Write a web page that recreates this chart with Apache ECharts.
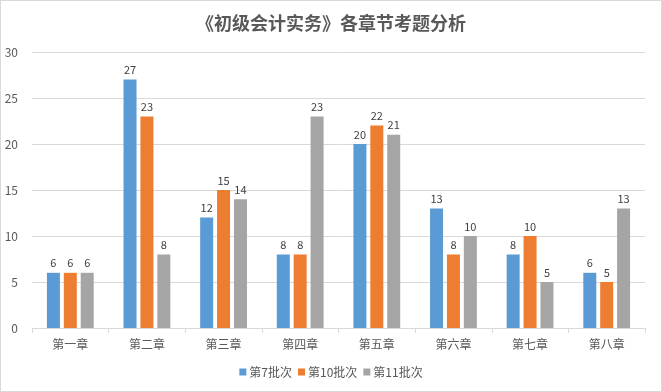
<!DOCTYPE html>
<html><head><meta charset="utf-8">
<script src="https://cdn.jsdelivr.net/npm/echarts@6/dist/echarts.min.js"></script>
<style>html,body{margin:0;padding:0;background:#fff}#c{width:662px;height:392px;box-sizing:border-box;border:1px solid #d9d9d9}</style>
</head><body><div id="c"></div>
<script>
const categories = ['第一章','第二章','第三章','第四章','第五章','第六章','第七章','第八章'];
const batch7 = [6,27,12,8,20,13,8,6];
const batch10 = [6,23,15,8,22,8,10,5];
const batch11 = [6,8,14,23,21,10,5,13];
const seriesNames = ['第7批次','第10批次','第11批次'];
const colors = ['#5B9BD5','#ED7D31','#A5A5A5'];
const chart = echarts.init(document.getElementById('c'));
const font = "'Microsoft YaHei','Noto Sans CJK SC',sans-serif";
const mk = (name, data, color) => ({
  name, type:'bar', data, barWidth:13, barGap:'30%',
  itemStyle:{color},
  label:{show:true, position:'top', color:'#404040', fontSize:11, fontFamily:font, distance:4}
});
chart.setOption({
  animation:false,
  textStyle:{fontFamily:font},
  title:{text:'《初级会计实务》各章节考题分析', left:'center', top:8,
    textStyle:{fontSize:18, fontWeight:'bold', color:'#595959', fontFamily:"'Noto Sans CJK SC',serif"}},
  legend:{bottom:8, itemWidth:7, itemHeight:7, itemGap:6, icon:'rect',
    textStyle:{color:'#595959', fontSize:12, padding:[0,0,0,-2]}},
  grid:{left:31, right:16, top:51, bottom:63, containLabel:false},
  xAxis:{type:'category', data:categories,
    axisLine:{lineStyle:{color:'#d9d9d9'}},
    axisTick:{show:true, length:5, lineStyle:{color:'#d9d9d9'}},
    axisLabel:{color:'#595959', fontSize:12, margin:10}},
  yAxis:{type:'value', min:0, max:30, interval:5,
    axisLine:{show:false}, axisTick:{show:false},
    splitLine:{lineStyle:{color:'#d9d9d9'}},
    axisLabel:{color:'#595959', fontSize:12, margin:14}},
  series:[mk(seriesNames[0],batch7,colors[0]), mk(seriesNames[1],batch10,colors[1]), mk(seriesNames[2],batch11,colors[2])]
});
</script></body></html>
